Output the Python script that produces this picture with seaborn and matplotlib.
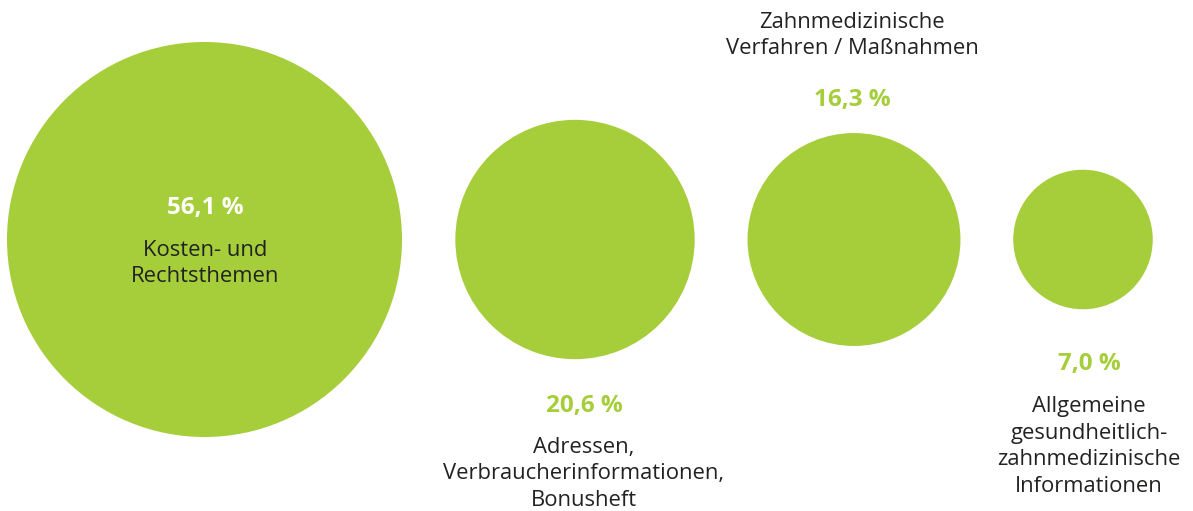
import matplotlib

matplotlib.use("Agg")
import matplotlib.pyplot as plt
import seaborn as sns

# shares of inquiries by topic (percent)
values = [56.1, 20.6, 16.3, 7.0]
categories = [
    "Kosten- und\nRechtsthemen",
    "Adressen,\nVerbraucherinformationen,\nBonusheft",
    "Zahnmedizinische\nVerfahren / Maßnahmen",
    "Allgemeine\ngesundheitlich-\nzahnmedizinische\nInformationen",
]

# layout in pixel coordinates (figure is 1193 x 511 px)
centers_x = [204.5, 575, 854, 1083]
center_y = 239.5
largest_radius_px = 197.5
# where the value / category text goes: (x, baseline of value, baseline of first label line)
text_pos = [
    (205, 214, 256),
    (584, 412, 453),
    (852, 106, 28),
    (1089, 370, 412),
]
line_step = 26.5

GREEN = "#a6cd3a"
DARK = "#222221"

sns.set_theme(style="white")
plt.rcParams["font.family"] = ["Open Sans", "DejaVu Sans"]

dpi = 100
fig = plt.figure(figsize=(11.93, 5.11), dpi=dpi)
ax = fig.add_axes([0, 0, 1, 1])
ax.set_xlim(0, 1193)
ax.set_ylim(511, 0)
ax.axis("off")

# area proportional to the value
max_diam_pt = 2 * largest_radius_px * 72 / dpi
sns.scatterplot(
    x=centers_x,
    y=[center_y] * len(values),
    size=values,
    sizes=(0, max_diam_pt ** 2),
    size_norm=(0, max(values)),
    color=GREEN,
    linewidth=0,
    alpha=1,
    legend=False,
    ax=ax,
)


def fmt(v):
    return f"{v:.1f}".replace(".", ",") + " %"


for i, (value, label) in enumerate(zip(values, categories)):
    tx, value_base, label_base = text_pos[i]
    ax.text(
        tx, value_base, fmt(value),
        ha="center", va="baseline",
        fontsize=17.5, fontweight="bold",
        color="white" if i == 0 else GREEN,
    )
    for k, line in enumerate(label.split("\n")):
        ax.text(
            tx, label_base + k * line_step, line,
            ha="center", va="baseline",
            fontsize=15.8, color=DARK,
        )

fig.savefig("out.png", dpi=dpi)
plt.close(fig)
